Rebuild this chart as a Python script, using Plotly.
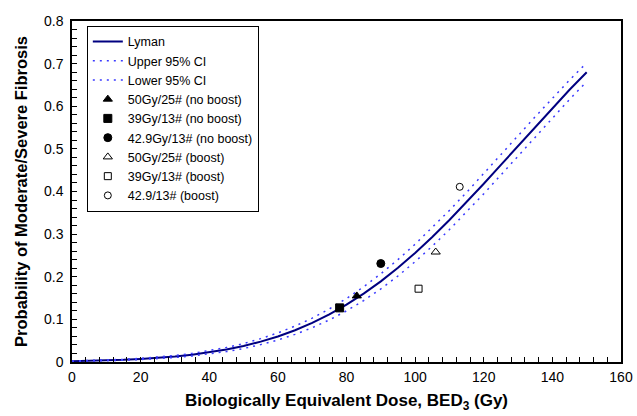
import plotly.graph_objects as go

# Dose grid (Gy) and curves
dose = [0, 5, 10, 15, 20, 25, 30, 35, 40, 45, 50, 55, 60, 65, 70, 75, 80, 85, 90, 95,
        100, 105, 110, 115, 120, 125, 130, 135, 140, 145, 150]
lyman = [0.0019, 0.0026, 0.0037, 0.0051, 0.0071, 0.0096, 0.0129, 0.0171, 0.0225, 0.0292,
         0.0375, 0.0478, 0.0600, 0.0745, 0.0917, 0.1116, 0.1344, 0.1603, 0.1892, 0.2210,
         0.2559, 0.2933, 0.3332, 0.3749, 0.4181, 0.4625, 0.5072, 0.5518, 0.5959, 0.6387, 0.6798]
upper = [0.0023, 0.0032, 0.0045, 0.0062, 0.0085, 0.0114, 0.0153, 0.0201, 0.0264, 0.0340,
         0.0433, 0.0548, 0.0683, 0.0842, 0.1029, 0.1244, 0.1489, 0.1764, 0.2069, 0.2402,
         0.2764, 0.3149, 0.3557, 0.3980, 0.4416, 0.4862, 0.5309, 0.5753, 0.6191, 0.6614, 0.7019]
lower = [0.0015, 0.0020, 0.0029, 0.0040, 0.0057, 0.0078, 0.0105, 0.0141, 0.0186, 0.0244,
         0.0317, 0.0408, 0.0517, 0.0648, 0.0805, 0.0988, 0.1199, 0.1442, 0.1715, 0.2018,
         0.2354, 0.2717, 0.3107, 0.3518, 0.3946, 0.4388, 0.4835, 0.5283, 0.5727, 0.6160, 0.6577]

# Observed data points
obs_names = ["50Gy/25# (no boost)", "39Gy/13# (no boost)", "42.9Gy/13# (no boost)",
             "50Gy/25# (boost)", "39Gy/13# (boost)", "42.9/13# (boost)"]
obs_bed = [83, 78, 90, 106, 101, 113]
obs_prob = [0.155, 0.127, 0.231, 0.258, 0.172, 0.411]
obs_symbols = ["triangle-up", "square", "circle", "triangle-up-open", "square-open", "circle-open"]
obs_sizes = [8, 8, 8, 8, 7, 7]

x_ticks = [0, 20, 40, 60, 80, 100, 120, 140, 160]
y_ticks = [0, 0.1, 0.2, 0.3, 0.4, 0.5, 0.6, 0.7, 0.8]
y_ticklabels = ["0", "0.1", "0.2", "0.3", "0.4", "0.5", "0.6", "0.7", "0.8"]

FONT = "Liberation Sans, Arial, sans-serif"

fig = go.Figure()
fig.add_trace(go.Scatter(x=dose, y=lyman, mode="lines", name="Lyman",
                         line=dict(color="#000080", width=2)))
fig.add_trace(go.Scatter(x=dose, y=upper, mode="lines", name="Upper 95% CI",
                         line=dict(color="#3a3aff", width=1.5, dash="2px,5px")))
fig.add_trace(go.Scatter(x=dose, y=lower, mode="lines", name="Lower 95% CI",
                         line=dict(color="#3a3aff", width=1.5, dash="2px,5px")))
for n, xb, yp, s, sz in zip(obs_names, obs_bed, obs_prob, obs_symbols, obs_sizes):
    fig.add_trace(go.Scatter(x=[xb], y=[yp], mode="markers", name=n,
                             marker=dict(symbol=s, size=sz, color="black",
                                         line=dict(color="black", width=1))))

tick_font = dict(family=FONT, size=14, color="black")
fig.update_layout(
    width=637, height=416,
    margin=dict(l=72, r=16, t=21, b=54, autoexpand=False),
    paper_bgcolor="white", plot_bgcolor="white",
    font=dict(family=FONT, size=12, color="black"),
    showlegend=True,
    legend=dict(x=0.027, y=0.986, xanchor="left", yanchor="top",
                bordercolor="black", borderwidth=1, bgcolor="white",
                font=dict(family=FONT, size=12.5, color="black"),
                tracegroupgap=0, itemwidth=30),
)
fig.update_xaxes(range=[0, 160], tickvals=x_ticks, ticks="inside", ticklen=5,
                 tickcolor="black", showline=True, linecolor="black", linewidth=1.5,
                 mirror=True, showgrid=False, zeroline=False, tickfont=tick_font,
                 ticklabelstandoff=1, automargin=False,
                 minor=dict(dtick=4, ticks="inside", ticklen=5, tickcolor="black"),
                 title=dict(text="<b>Biologically Equivalent Dose, BED<sub>3</sub> (Gy)</b>",
                            font=dict(family=FONT, size=17, color="black"), standoff=11))
fig.update_yaxes(range=[0, 0.8], tickvals=y_ticks, ticktext=y_ticklabels, ticks="inside",
                 ticklen=5, tickcolor="black", showline=True, linecolor="black",
                 linewidth=1.5, mirror=True, showgrid=False, zeroline=False,
                 tickfont=tick_font, ticklabelstandoff=4, automargin=False,
                 minor=dict(dtick=0.02, ticks="inside", ticklen=5, tickcolor="black"),
                 title=dict(text="<b>Probability of Moderate/Severe Fibrosis</b>",
                            font=dict(family=FONT, size=16.5, color="black"), standoff=12))

fig.write_html("out.html", config={"displayModeBar": False},
               post_script="document.body.style.margin='0';document.body.style.overflow='hidden';")
